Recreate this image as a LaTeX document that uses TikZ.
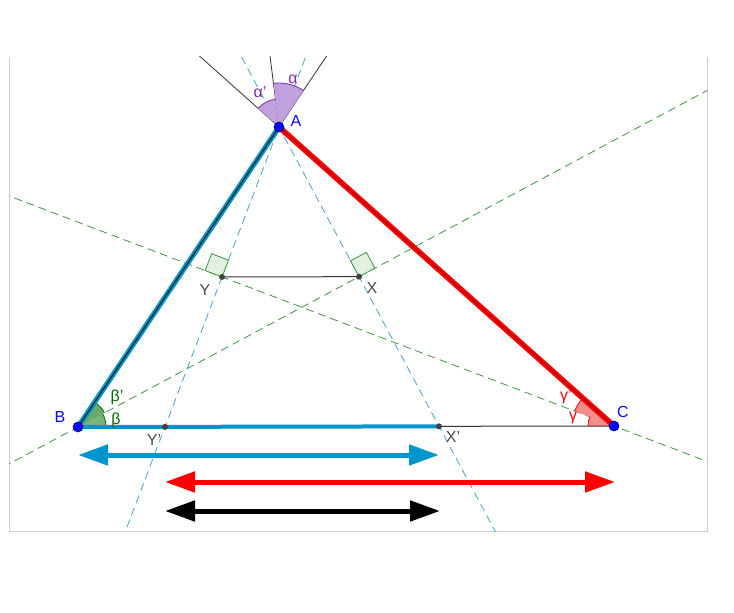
\documentclass[tikz,border=0pt]{standalone}
\usepackage{fontspec}
\setmainfont{Liberation Sans}
\usetikzlibrary{calc,angles,arrows.meta}

\definecolor{sideblue}{RGB}{0,150,205}
\definecolor{dashblue}{RGB}{70,160,210}
\definecolor{bisgreen}{RGB}{60,150,60}
\definecolor{ptblue}{RGB}{10,10,250}
\definecolor{framegray}{RGB}{205,205,205}
\definecolor{alphacol}{RGB}{125,45,160}
\definecolor{betacol}{RGB}{0,105,0}

\tikzset{
  vertex/.style={circle, fill=ptblue, draw=blue!50!black, line width=0.3pt, inner sep=0pt, minimum size=5pt},
  foot/.style={circle, fill=black!75, inner sep=0pt, minimum size=3pt},
  lbl/.style={font=\fontsize{8}{9}\selectfont, inner sep=0pt},
  bisector/.style={bisgreen, dash pattern=on 4pt off 2.5pt, line width=0.4pt},
  perpline/.style={dashblue, dash pattern=on 4pt off 2.5pt, line width=0.4pt},
  rightmark/.style={fill={rgb,255:red,226;green,240;blue,226}, draw=bisgreen, line width=0.4pt},
  twoway/.style={line width=2.5pt, line cap=round, {Triangle[length=15pt,width=10pt]}-{Triangle[length=15pt,width=10pt]}},
}

\begin{document}
\begin{tikzpicture}[x=0.5pt,y=0.5pt]
  \useasboundingbox (0,0) rectangle (734,612);

  % triangle
  \coordinate (A) at (279,485);
  \coordinate (B) at (78,185);
  \coordinate (C) at (614,186);

  % bisectors of B and C, feet X and Y, reflections X' and Y'
  \coordinate (Ba) at ($(B)!10pt!(A)$);
  \coordinate (Bc) at ($(B)!10pt!(C)$);
  \coordinate (Bm) at ($(Ba)!0.5!(Bc)$);
  \coordinate (Ca) at ($(C)!10pt!(A)$);
  \coordinate (Cb) at ($(C)!10pt!(B)$);
  \coordinate (Cm) at ($(Ca)!0.5!(Cb)$);
  \coordinate (X) at ($(B)!(A)!(Bm)$);
  \coordinate (Y) at ($(C)!(A)!(Cm)$);
  \coordinate (Xp) at ($(A)!2!(X)$);
  \coordinate (Yp) at ($(A)!2!(Y)$);

  % bisector of A, pointing up
  \coordinate (Ab) at ($(A)!10pt!(B)$);
  \coordinate (Ac) at ($(A)!10pt!(C)$);
  \coordinate (Am) at ($(Ab)!0.5!(Ac)$);
  \coordinate (Au) at ($(Am)!15!(A)$);
  \coordinate (Eb) at ($(B)!1.4!(A)$);
  \coordinate (Ec) at ($(C)!1.4!(A)$);

  % frame
  \draw[framegray, line width=0.5pt] (9,555) -- (9,81) -- (707,81) -- (707,555);

  \begin{scope}
    \clip (9,81) rectangle (707,555);
    \draw[bisector] ($(B)!-1!(X)$) -- ($(B)!3!(X)$);
    \draw[bisector] ($(C)!-1!(Y)$) -- ($(C)!3!(Y)$);
    \draw[perpline] ($(A)!-1!(Yp)$) -- ($(A)!1.5!(Yp)$);
    \draw[perpline] ($(A)!-1!(Xp)$) -- ($(A)!1.5!(Xp)$);
    \draw[black!80, line width=0.4pt] (A) -- ($(B)!2!(A)$);
    \draw[black!80, line width=0.4pt] (A) -- ($(C)!2!(A)$);
    \draw[black!80, line width=0.4pt] (A) -- ($(Am)!40!(A)$);
  \end{scope}

  % angle marks
  \pic[draw=alphacol, fill={rgb,255:red,192;green,160;blue,222}, line width=0.4pt, angle radius=22pt] {angle=Eb--A--Au};
  \pic[draw=alphacol, fill={rgb,255:red,192;green,160;blue,222}, line width=0.4pt, angle radius=14pt] {angle=Au--A--Ec};
  \pic[draw=betacol, fill={rgb,255:red,105;green,172;blue,105}, line width=0.4pt, angle radius=15pt] {angle=Bm--B--A};
  \pic[draw=betacol, fill={rgb,255:red,120;green,182;blue,120}, line width=0.4pt, angle radius=14pt] {angle=C--B--Bm};
  \pic[draw=red, fill={rgb,255:red,245;green,140;blue,140}, line width=0.4pt, angle radius=21pt] {angle=A--C--Cm};
  \pic[draw=red, fill={rgb,255:red,245;green,140;blue,140}, line width=0.4pt, angle radius=13pt] {angle=Cm--C--B};

  % right angles at X and Y
  \coordinate (Xa) at ($(X)!9pt!(A)$);
  \coordinate (Xg) at ($(X)!-9pt!(B)$);
  \coordinate (Ya) at ($(Y)!9pt!(A)$);
  \coordinate (Yg) at ($(Y)!-9pt!(C)$);
  \draw[rightmark] (X) -- (Xa) -- ($(Xa)+(Xg)-(X)$) -- (Xg) -- cycle;
  \draw[rightmark] (Y) -- (Ya) -- ($(Ya)+(Yg)-(Y)$) -- (Yg) -- cycle;

  % sides
  \draw[black!80, line width=0.5pt] (B) -- (C);
  \draw[sideblue, line width=2pt] (B) -- (Xp);
  \draw[sideblue, line width=2.6pt] (B) -- (A);
  \draw[black!85, line width=0.6pt] (B) -- (A);
  \draw[red, line width=2.8pt] (A) -- (C);
  \draw[red!65!black, line width=0.5pt] (A) -- (C);
  \draw[black!80, line width=0.5pt] (Y) -- (X);

  % lengths
  \coordinate (blueL) at (78,157);
  \coordinate (blueR) at (439,157);
  \coordinate (redL) at (165,130);
  \coordinate (redR) at (615,130);
  \coordinate (blackL) at (165,101);
  \coordinate (blackR) at (440,101);
  \draw[twoway, sideblue] (blueL) -- (blueR);
  \draw[twoway, red] (redL) -- (redR);
  \draw[twoway, black] (blackL) -- (blackR);

  % points
  \node[foot] (ptX) at (X) {};
  \node[foot] (ptY) at (Y) {};
  \node[foot] (ptXp) at (Xp) {};
  \node[foot] (ptYp) at (Yp) {};
  \node[vertex] (ptA) at (A) {};
  \node[vertex] (ptB) at (B) {};
  \node[vertex] (ptC) at (C) {};

  % labels
  \node[lbl, text=ptblue] (labA) at (296,491) {A};
  \node[lbl, text=ptblue] (labB) at (60,195) {B};
  \node[lbl, text=ptblue] (labC) at (623,200) {C};
  \node[lbl, text=black!70] (labY) at (205,322) {Y};
  \node[lbl, text=black!70] (labX) at (372,324) {X};
  \node[lbl, text=black!70] (labYp) at (154,172) {Y'};
  \node[lbl, text=black!70] (labXp) at (453,175) {X'};
  \node[lbl, text=alphacol] (labal) at (293,533) {α};
  \node[lbl, text=alphacol] (labalp) at (260,520) {α'};
  \node[lbl, text=betacol] (labbep) at (117,215) {β'};
  \node[lbl, text=betacol] (labbe) at (116,192) {β};
  \node[lbl, text=red] (labgap) at (566,215) {γ'};
  \node[lbl, text=red] (labga) at (573,194) {γ};
\end{tikzpicture}
\end{document}
